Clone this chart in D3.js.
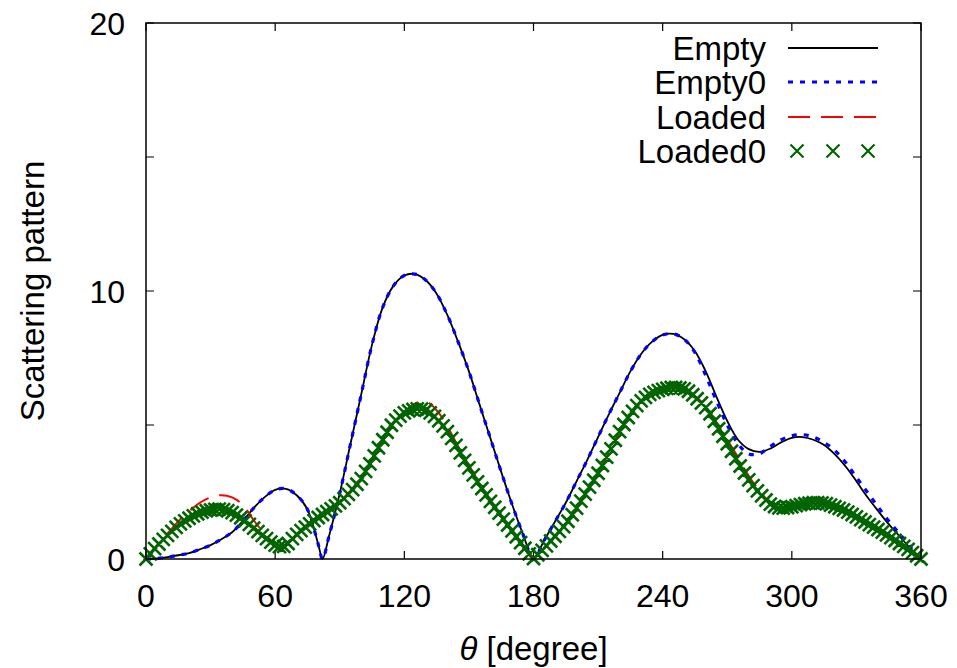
<!DOCTYPE html>
<html>
<head>
<meta charset="utf-8">
<script src="https://cdn.jsdelivr.net/npm/d3@7"></script>
<style>
  body { margin: 0; background: #fff; }
  text { font-family: "Liberation Sans", Arial, Helvetica, sans-serif; fill: #000; }
</style>
</head>
<body>
<div id="chart"></div>
<script>
// angle grid for the lines
var theta = [0, 5, 10, 15, 20, 25, 30, 35, 40, 45, 50, 55, 60, 65, 70, 75, 80, 82, 85, 90,
  95, 100, 105, 110, 115, 120, 125, 130, 135, 140, 145, 150, 155, 160, 165, 170, 175, 180,
  185, 190, 195, 200, 205, 210, 215, 220, 225, 230, 235, 240, 245, 250, 255, 260, 265, 270,
  275, 280, 285, 290, 295, 300, 305, 310, 315, 320, 325, 330, 335, 340, 345, 350, 355, 360];

var empty = [0, 0.02, 0.07, 0.14, 0.22, 0.36, 0.52, 0.74, 1.0, 1.42, 1.9, 2.3, 2.58, 2.62, 2.38, 1.85, 0.55, 0, 0.85, 2.45,
  4.3, 6.15, 8.0, 9.4, 10.2, 10.58, 10.63, 10.4, 9.9, 9.1, 8.1, 7.0, 5.75, 4.5, 3.25, 2.05, 0.95, 0.03,
  0.7, 1.4, 2.1, 2.9, 3.7, 4.55, 5.4, 6.2, 7.0, 7.65, 8.1, 8.36, 8.4, 8.2, 7.75, 7.0, 6.05, 5.15,
  4.45, 4.1, 4.0, 4.12, 4.35, 4.52, 4.55, 4.45, 4.25, 3.9, 3.45, 2.9, 2.32, 1.8, 1.3, 0.85, 0.4, 0];

var empty0 = [0, 0.02, 0.07, 0.14, 0.22, 0.36, 0.52, 0.74, 1.0, 1.42, 1.9, 2.3, 2.58, 2.62, 2.38, 1.85, 0.55, 0, 0.85, 2.45,
  4.3, 6.15, 8.0, 9.4, 10.2, 10.58, 10.63, 10.4, 9.9, 9.1, 8.1, 7.0, 5.75, 4.5, 3.25, 2.05, 0.95, 0.03,
  0.7, 1.4, 2.1, 2.9, 3.7, 4.55, 5.4, 6.2, 7.0, 7.65, 8.1, 8.36, 8.4, 8.2, 7.7, 6.85, 5.9, 5.0,
  4.3, 3.92, 3.93, 4.2, 4.45, 4.6, 4.64, 4.55, 4.35, 4.05, 3.6, 3.05, 2.5, 1.95, 1.42, 0.95, 0.45, 0];

var loaded = [0, 0.5, 0.95, 1.4, 1.78, 2.1, 2.3, 2.38, 2.3, 2.02, 1.45, 0.95, 0.58, 0.5, 0.88, 1.25, 1.58, 1.7, 1.85, 2.15,
  2.55, 3.05, 3.7, 4.4, 5.05, 5.5, 5.8, 5.88, 5.55, 4.95, 4.2, 3.5, 2.82, 2.2, 1.6, 1.05, 0.5, 0.02,
  0.4, 0.85, 1.3, 1.9, 2.55, 3.2, 3.95, 4.75, 5.4, 5.9, 6.2, 6.36, 6.42, 6.36, 6.08, 5.7, 5.1, 4.45,
  3.8, 3.1, 2.55, 2.1, 1.92, 1.95, 2.05, 2.1, 2.08, 1.95, 1.8, 1.57, 1.33, 1.1, 0.85, 0.58, 0.3, 0];

// Loaded0 is drawn as points every 2 degrees
var thetaMarks = d3.range(0, 361, 2);
var loaded0 = [
  0, 0.19, 0.39, 0.56, 0.73, 0.88, 1.03, 1.18, 1.31, 1.42,
  1.52, 1.61, 1.69, 1.75, 1.80, 1.83, 1.85, 1.86, 1.84, 1.80,
  1.73, 1.64, 1.54, 1.42, 1.29, 1.15, 1.02, 0.88, 0.76, 0.63,
  0.52, 0.46, 0.47, 0.58, 0.76, 0.92, 1.06, 1.19, 1.31, 1.43,
  1.55, 1.66, 1.77, 1.87, 1.98, 2.10, 2.25, 2.41, 2.59, 2.79,
  3.00, 3.27, 3.55, 3.85, 4.15, 4.45, 4.73, 4.99, 5.18, 5.33,
  5.45, 5.53, 5.58, 5.60, 5.59, 5.55, 5.45, 5.32, 5.16, 4.97,
  4.75, 4.50, 4.24, 3.96, 3.68, 3.40, 3.14, 2.88, 2.63, 2.39,
  2.15, 1.93, 1.71, 1.49, 1.27, 1.05, 0.83, 0.61, 0.40, 0.19,
  0.02, 0.16, 0.32, 0.49, 0.67, 0.85, 1.03, 1.21, 1.41, 1.65,
  1.90, 2.16, 2.42, 2.68, 2.94, 3.20, 3.49, 3.80, 4.11, 4.43,
  4.75, 5.02, 5.28, 5.51, 5.72, 5.90, 6.03, 6.14, 6.22, 6.28,
  6.33, 6.37, 6.40, 6.40, 6.38, 6.35, 6.26, 6.13, 5.98, 5.82,
  5.65, 5.42, 5.14, 4.86, 4.58, 4.30, 4.02, 3.74, 3.47, 3.21,
  2.95, 2.74, 2.54, 2.36, 2.20, 2.05, 1.96, 1.91, 1.90, 1.92,
  1.95, 1.99, 2.03, 2.06, 2.08, 2.10, 2.10, 2.09, 2.06, 2.01,
  1.95, 1.89, 1.83, 1.75, 1.66, 1.57, 1.47, 1.38, 1.28, 1.19,
  1.10, 1.00, 0.90, 0.80, 0.69, 0.58, 0.47, 0.36, 0.24, 0.12,
  0];

var xTicks = [0, 60, 120, 180, 240, 300, 360];
var yTicks = [0, 5, 10, 15, 20];
var yLabels = [0, 10, 20];
var seriesNames = ["Empty", "Empty0", "Loaded", "Loaded0"];

var W = 957, H = 668;
var margin = { top: 23, right: 36, bottom: 109, left: 146 };
var width = W - margin.left - margin.right,
  height = H - margin.top - margin.bottom;

var svg = d3.select("#chart").append("svg")
  .attr("width", W)
  .attr("height", H);

var g = svg.append("g")
  .attr("transform", "translate(" + margin.left + "," + margin.top + ")");

var x = d3.scaleLinear().domain([0, 360]).range([0, width]);
var y = d3.scaleLinear().domain([0, 20]).range([height, 0]);

// ticks, pointing inward on all four sides
var tickLen = 8;
g.selectAll(".xt").data(xTicks).enter().append("path")
  .attr("d", function(d) { return "M" + x(d) + "," + height + "v" + (-tickLen) + "M" + x(d) + ",0v" + tickLen; })
  .attr("stroke", "#000").attr("stroke-width", 1.2);
g.selectAll(".yt").data(yTicks).enter().append("path")
  .attr("d", function(d) { return "M0," + y(d) + "h" + tickLen + "M" + width + "," + y(d) + "h" + (-tickLen); })
  .attr("stroke", "#000").attr("stroke-width", 1.2);

g.selectAll(".xl").data(xTicks).enter().append("text")
  .attr("x", function(d) { return x(d); })
  .attr("y", height + 48)
  .attr("text-anchor", "middle")
  .style("font-size", "32px")
  .text(function(d) { return d; });

g.selectAll(".yl").data(yLabels).enter().append("text")
  .attr("x", -21)
  .attr("y", function(d) { return y(d); })
  .attr("dy", "0.36em")
  .attr("text-anchor", "end")
  .style("font-size", "32px")
  .text(function(d) { return d; });

// axis titles
var xt = g.append("text")
  .attr("x", width / 2)
  .attr("y", height + 101)
  .attr("text-anchor", "middle")
  .style("font-size", "33px");
xt.append("tspan").style("font-style", "italic").text("\u03b8");
xt.append("tspan").text(" [degree]");

svg.append("text")
  .attr("transform", "translate(44," + (margin.top + height / 2) + ") rotate(-90)")
  .attr("text-anchor", "middle")
  .style("font-size", "33px")
  .text("Scattering pattern");

// lines
var line = d3.line()
  .x(function(d) { return x(d[0]); })
  .y(function(d) { return y(d[1]); })
  .curve(d3.curveCatmullRom.alpha(0.5));

var styles = [
  { color: "#000000", width: 1.8, dash: null },
  { color: "#0000ff", width: 3.2, dash: "5,7" },
  { color: "#ff0000", width: 2, dash: "22,11" }
];
var lineData = [empty, empty0, loaded];

lineData.forEach(function(vals, i) {
  g.append("path")
    .datum(theta.map(function(t, j) { return [t, vals[j]]; }))
    .attr("d", line)
    .attr("fill", "none")
    .attr("stroke", styles[i].color)
    .attr("stroke-width", styles[i].width)
    .attr("stroke-dasharray", styles[i].dash);
});

var green = "#006400";
var cross = function(cx, cy) {
  var s = 6.5;
  return "M" + (cx - s) + "," + (cy - s) + "L" + (cx + s) + "," + (cy + s) +
    "M" + (cx - s) + "," + (cy + s) + "L" + (cx + s) + "," + (cy - s);
};

g.append("path")
  .attr("d", thetaMarks.map(function(t, j) { return cross(x(t), y(loaded0[j])); }).join(""))
  .attr("fill", "none")
  .attr("stroke", green)
  .attr("stroke-width", 2.6);

// frame
g.append("rect")
  .attr("width", width).attr("height", height)
  .attr("fill", "none").attr("stroke", "#000").attr("stroke-width", 1.5);

// legend
var legY = [48, 82, 117, 151];
var leg = svg.append("g");
seriesNames.forEach(function(name, i) {
  leg.append("text")
    .attr("x", 766)
    .attr("y", legY[i])
    .attr("dy", "0.36em")
    .attr("text-anchor", "end")
    .style("font-size", "33px")
    .text(name);
  if (i < 3) {
    leg.append("line")
      .attr("x1", 788).attr("x2", 878)
      .attr("y1", legY[i]).attr("y2", legY[i])
      .attr("stroke", styles[i].color)
      .attr("stroke-width", styles[i].width)
      .attr("stroke-dasharray", styles[i].dash);
  } else {
    leg.append("path")
      .attr("d", [797, 833, 868].map(function(cx) { return cross(cx, legY[i]); }).join(""))
      .attr("fill", "none")
      .attr("stroke", green)
      .attr("stroke-width", 2.2);
  }
});
</script>
</body>
</html>
